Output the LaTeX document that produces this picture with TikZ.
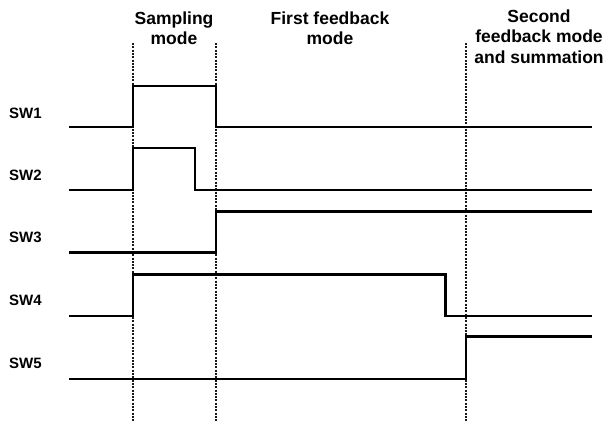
\documentclass[tikz,border=0pt]{standalone}
\usepackage{fontspec}
\setmainfont{Liberation Sans}
\usepackage{tikz}
\usepackage{xcolor}

\begin{document}
\begin{tikzpicture}[x=1pt, y=-1pt,
  signal/.style={line width=2.7pt, line join=miter, black},
  phase/.style={line width=1.3pt, dash pattern=on 2pt off 1.3pt, black!90},
  swlabel/.style={anchor=west, inner sep=0pt, font=\fontsize{15}{18}\selectfont\bfseries},
  modelabel/.style={align=center, inner sep=0pt, font=\fontsize{17.5}{20.5}\selectfont\bfseries}]
  % Fix the picture size
  \useasboundingbox (0,0) rectangle (606,421);

  % Phase borders
  \draw[phase] (133,43) -- (133,421);
  \draw[phase] (216,43) -- (216,421);
  \draw[phase] (466,43) -- (466,421);

  % Phase names
  \node[modelabel] (sampling) at (174,28) {Sampling\\mode};
  \node[modelabel] (firstfb) at (330,28) {First feedback\\mode};
  \node[modelabel] (secondfb) at (539,36.5) {Second\\feedback mode\\and summation};

  % Switch names
  \node[swlabel] (sw1) at (9,113.7) {SW1};
  \node[swlabel] (sw2) at (9,175) {SW2};
  \node[swlabel] (sw3) at (9,237.7) {SW3};
  \node[swlabel] (sw4) at (9,300) {SW4};
  \node[swlabel] (sw5) at (9,363.3) {SW5};

  % Switch waveforms
  \draw[signal] (69,127) -- (133,127) -- (133,86) -- (216,86) -- (216,127) -- (592,127);
  \draw[signal] (69,190) -- (133,190) -- (133,148) -- (195,148) -- (195,190) -- (592,190);
  \draw[signal] (69,252.7) -- (216,252.7) -- (216,211.7) -- (592,211.7);
  \draw[signal] (69,316) -- (133,316) -- (133,274.5) -- (445.7,274.5) -- (445.7,316) -- (592,316);
  \draw[signal] (69,379) -- (466,379) -- (466,336.7) -- (592,336.7);
\end{tikzpicture}
\end{document}
